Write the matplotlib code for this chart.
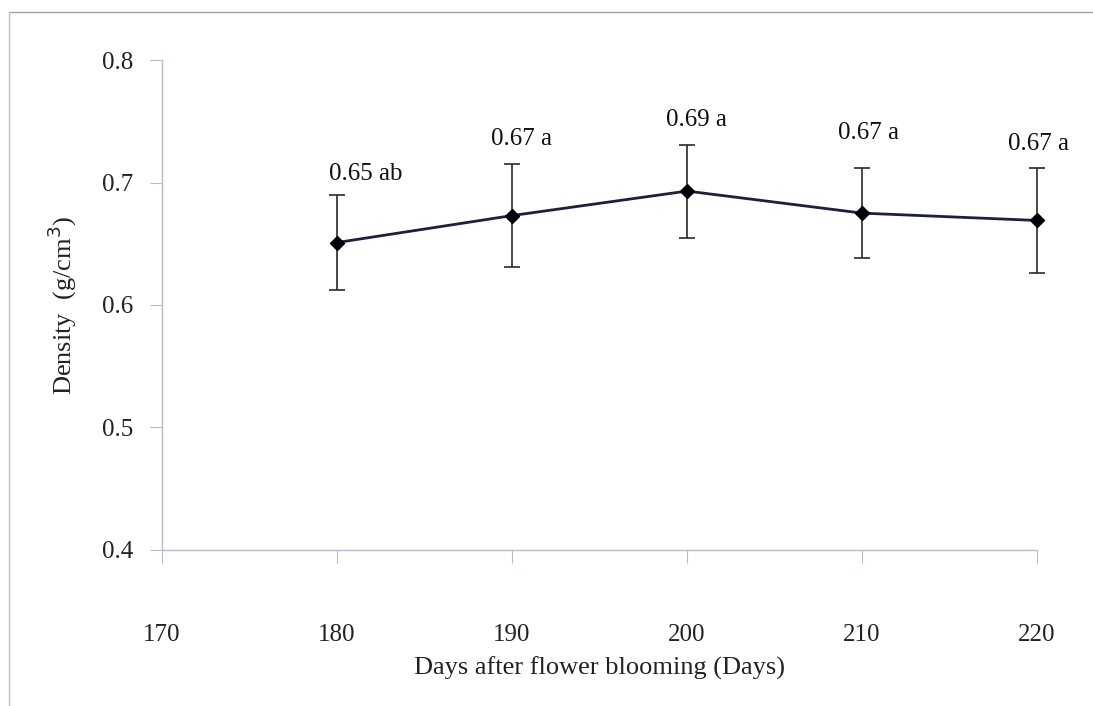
import matplotlib.pyplot as plt
from matplotlib.lines import Line2D

# Datos
dias = [180, 190, 200, 210, 220]
densidad = [0.651, 0.673, 0.693, 0.675, 0.669]
error = [0.039, 0.042, 0.038, 0.037, 0.043]
etiquetas = ['0.65 ab', '0.67 a', '0.69 a', '0.67 a', '0.67 a']

# desplazamiento de cada etiqueta (puntos) respecto al extremo superior de la barra
desplaz = [(21, 7), (7, 10), (7, 10), (5, 17), (1, 9)]

plt.rcParams['font.family'] = 'Liberation Serif'
color_eje = '#b9b9cf'

fig = plt.figure(figsize=(10.93, 7.06), dpi=100)
ax = fig.add_axes([0.1482, 0.221, 0.8006, 0.694])

ax.errorbar(dias, densidad, yerr=error, color='#1b2040', linewidth=2,
            marker='D', markersize=7, markerfacecolor='black', markeredgecolor='black',
            ecolor='#2a2a2a', elinewidth=1.2, capsize=6, capthick=1.2, zorder=3,
            clip_on=False)

for x, y, e, txt, (dx, dy) in zip(dias, densidad, error, etiquetas, desplaz):
    ax.annotate(txt, (x, y + e), xytext=(dx, dy), textcoords='offset points',
                ha='center', va='bottom', fontsize=18, color='#111111')

ax.set_xlim(170, 220)
ax.set_ylim(0.4, 0.8)
ax.set_xticks([170, 180, 190, 200, 210, 220])
ax.set_yticks([0.4, 0.5, 0.6, 0.7, 0.8])
ax.set_yticklabels(['0.4', '0.5', '0.6', '0.7', '0.8'])

for lado in ['top', 'right']:
    ax.spines[lado].set_visible(False)
for lado in ['left', 'bottom']:
    ax.spines[lado].set_color(color_eje)
    ax.spines[lado].set_linewidth(1)

ax.tick_params(axis='x', direction='out', length=9, color=color_eje, pad=44,
               labelsize=18, labelcolor='#222222')
ax.tick_params(axis='y', direction='out', length=9, color=color_eje, pad=12,
               labelsize=18, labelcolor='#222222')

ax.set_xlabel('Days after flower blooming (Days)', fontsize=19, color='#222222', labelpad=8)
ax.set_ylabel('Density  (g/cm$^3$)', fontsize=19, color='#222222', labelpad=16)

# marco de la imagen (solo arriba e izquierda)
fig.add_artist(Line2D([0.008, 1.0], [0.983, 0.983], transform=fig.transFigure,
                      color='#a0a0b0', linewidth=1))
fig.add_artist(Line2D([0.008, 0.008], [0.0, 0.983], transform=fig.transFigure,
                      color='#c0c0c8', linewidth=1))

fig.savefig('out.png', dpi=100)
